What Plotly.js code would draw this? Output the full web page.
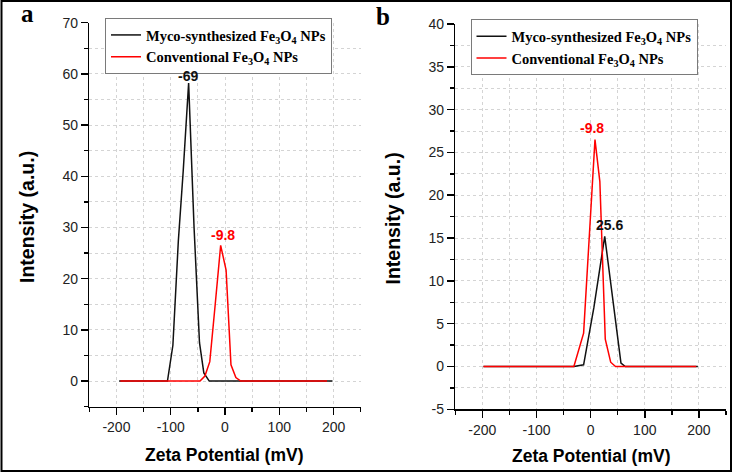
<!DOCTYPE html>
<html>
<head>
<meta charset="utf-8">
<script src="https://cdn.plot.ly/plotly-3.0.1.min.js"></script>
<style>
  html, body { margin: 0; padding: 0; background: #fff; }
  #chart { width: 733px; height: 475px; }
</style>
</head>
<body>
<div id="chart"></div>
<script>
// ---- Data ----
// Panel a
const aMycoX = [-195, -106, -96, -86, -77, -67, -57, -47, -39, -29, 198];
const aMycoY = [0, 0, 7, 27.3, 41, 58.2, 30, 7.5, 1.6, 0, 0];
const aConvX = [-193, -46, -37, -28, -18, -8, 2, 11, 20, 29, 188];
const aConvY = [0, 0, 1, 3.8, 15, 26.5, 21.7, 3.2, 0.7, 0, 0];
// Panel b
const bMycoX = [-198, -31, -13, 6, 26, 40, 56, 64, 198];
const bMycoY = [0, 0, 0.2, 6.9, 15.2, 8.3, 0.4, 0, 0];
const bConvX = [-198, -31, -13, 8, 17, 27, 37, 46, 195];
const bConvY = [0, 0, 3.9, 26.5, 21.6, 3.2, 0.5, 0, 0];

// Tick labels (hyphen minus as in the reference)
const xTickVals = [-200, -100, 0, 100, 200];
const xTickText = ["-200", "-100", "0", "100", "200"];
const yaTickVals = [0, 10, 20, 30, 40, 50, 60, 70];
const yaTickText = ["0", "10", "20", "30", "40", "50", "60", "70"];
const ybTickVals = [-5, 0, 5, 10, 15, 20, 25, 30, 35, 40];
const ybTickText = ["-5", "0", "5", "10", "15", "20", "25", "30", "35", "40"];

const seriesNames = [
  "<b>Myco-synthesized Fe<sub>3</sub>O<sub>4</sub> NPs</b>",
  "<b>Conventional Fe<sub>3</sub>O<sub>4</sub> NPs</b>"
];
const peakLabels = {
  aMyco: {text: "-69", x: -68, y: 59.6},
  aConv: {text: "-9.8", x: -2.8, y: 28.6},
  bConv: {text: "-9.8", x: 2.2, y: 27.9},
  bMyco: {text: "25.6", x: 34.9, y: 16.5}
};
const xTitle = "Zeta Potential (mV)";
const yTitle = "Intensity (a.u.)";

// ---- Styling ----
const W = 733, H = 475;
const BLACK = "#111111", RED = "#ff0000";
const px = v => v / W;
const py = v => 1 - v / H;

function line(x, y, name, color, xa, ya, leg) {
  return {x, y, name, type: "scatter", mode: "lines",
    line: {color, width: 1.5}, xaxis: xa, yaxis: ya, legend: leg,
    hoverinfo: "skip"};
}

const traces = [
  line(aMycoX, aMycoY, seriesNames[0], BLACK, "x", "y", "legend"),
  line(aConvX, aConvY, seriesNames[1], RED, "x", "y", "legend"),
  line(bMycoX, bMycoY, seriesNames[0], BLACK, "x2", "y2", "legend2"),
  line(bConvX, bConvY, seriesNames[1], RED, "x2", "y2", "legend2")
];

const tickFont = {family: "Liberation Sans, Arial, sans-serif", size: 14, color: "#222"};
function axisBase(extra) {
  return Object.assign({
    showline: true, linecolor: "#000", linewidth: 1.5,
    ticks: "outside", ticklen: 7, tickwidth: 1.5, tickcolor: "#000",
    showgrid: false, zeroline: false, tickfont: tickFont,
    tickmode: "array", fixedrange: true
  }, extra);
}
function minor(dt) {
  return {tickmode: "linear", tick0: 0, dtick: dt, ticks: "outside", ticklen: 4, tickwidth: 1.5, tickcolor: "#000",
    showgrid: true, gridcolor: "#d4d4d4", griddash: "dot", gridwidth: 1};
}

const legendBase = {
  xanchor: "left", yanchor: "top", bgcolor: "#fff",
  bordercolor: "#7a7a7a", borderwidth: 1, itemwidth: 30,
  font: {family: "Liberation Serif, Times New Roman, serif", size: 14.5, color: "#000"},
  tracegroupgap: 0
};

function ann(text, x, y, opts) {
  return Object.assign({text, x, y, showarrow: false, xanchor: "center", yanchor: "middle"}, opts);
}
const labelFont = (c) => ({family: "Liberation Sans, Arial, sans-serif", size: 14, color: c});
const titleFont = (s) => ({family: "Liberation Sans, Arial, sans-serif", size: s, color: "#000"});
const panelFont = {family: "Liberation Serif, Times New Roman, serif", size: 25, color: "#000"};

const annotations = [
  ann("<b>" + peakLabels.aMyco.text + "</b>", peakLabels.aMyco.x, peakLabels.aMyco.y, {xref: "x", yref: "y", font: labelFont(BLACK)}),
  ann("<b>" + peakLabels.aConv.text + "</b>", peakLabels.aConv.x, peakLabels.aConv.y, {xref: "x", yref: "y", font: labelFont(RED)}),
  ann("<b>" + peakLabels.bConv.text + "</b>", peakLabels.bConv.x, peakLabels.bConv.y, {xref: "x2", yref: "y2", font: labelFont(RED)}),
  ann("<b>" + peakLabels.bMyco.text + "</b>", peakLabels.bMyco.x, peakLabels.bMyco.y, {xref: "x2", yref: "y2", font: labelFont(BLACK)}),
  ann("<b>" + xTitle + "</b>", px(225), py(455), {xref: "paper", yref: "paper", font: titleFont(17.5)}),
  ann("<b>" + xTitle + "</b>", px(591), py(456), {xref: "paper", yref: "paper", font: titleFont(17.5)}),
  ann("<b>" + yTitle + "</b>", px(26.5), py(217.5), {xref: "paper", yref: "paper", textangle: -90, font: titleFont(19.5)}),
  ann("<b>" + yTitle + "</b>", px(392.5), py(218), {xref: "paper", yref: "paper", textangle: -90, font: titleFont(19.5)}),
  ann("<b>a</b>", px(27.5), py(13.5), {xref: "paper", yref: "paper", font: panelFont}),
  ann("<b>b</b>", px(382.5), py(16.5), {xref: "paper", yref: "paper", font: panelFont})
];

const layout = {
  width: W, height: H,
  margin: {l: 0, r: 0, t: 0, b: 0, pad: 0},
  paper_bgcolor: "#fff", plot_bgcolor: "#fff",
  showlegend: true,
  xaxis: axisBase({domain: [px(89.3), px(360.7)], range: [-250, 250], tickvals: xTickVals, ticktext: xTickText, anchor: "y", minor: minor(50)}),
  yaxis: axisBase({domain: [py(406.7), py(22.7)], range: [-5, 70], tickvals: yaTickVals, ticktext: yaTickText, anchor: "x", minor: minor(5)}),
  xaxis2: axisBase({domain: [px(455.3), px(726)], range: [-250, 250], tickvals: xTickVals, ticktext: xTickText, anchor: "y2", minor: minor(50)}),
  yaxis2: axisBase({domain: [py(409.3), py(24)], range: [-5, 40], tickvals: ybTickVals, ticktext: ybTickText, anchor: "x2", minor: minor(2.5)}),
  legend: Object.assign({}, legendBase, {x: px(105), y: py(18)}),
  legend2: Object.assign({}, legendBase, {x: px(470.5), y: py(19.3)}),
  annotations,
  shapes: [{type: "rect", xref: "paper", yref: "paper",
    x0: px(1.5), x1: px(731), y0: py(471), y1: py(1), line: {color: "#000", width: 2}, layer: "above"}]
};

Plotly.newPlot("chart", traces, layout, {displayModeBar: false, staticPlot: true});
</script>
</body>
</html>
